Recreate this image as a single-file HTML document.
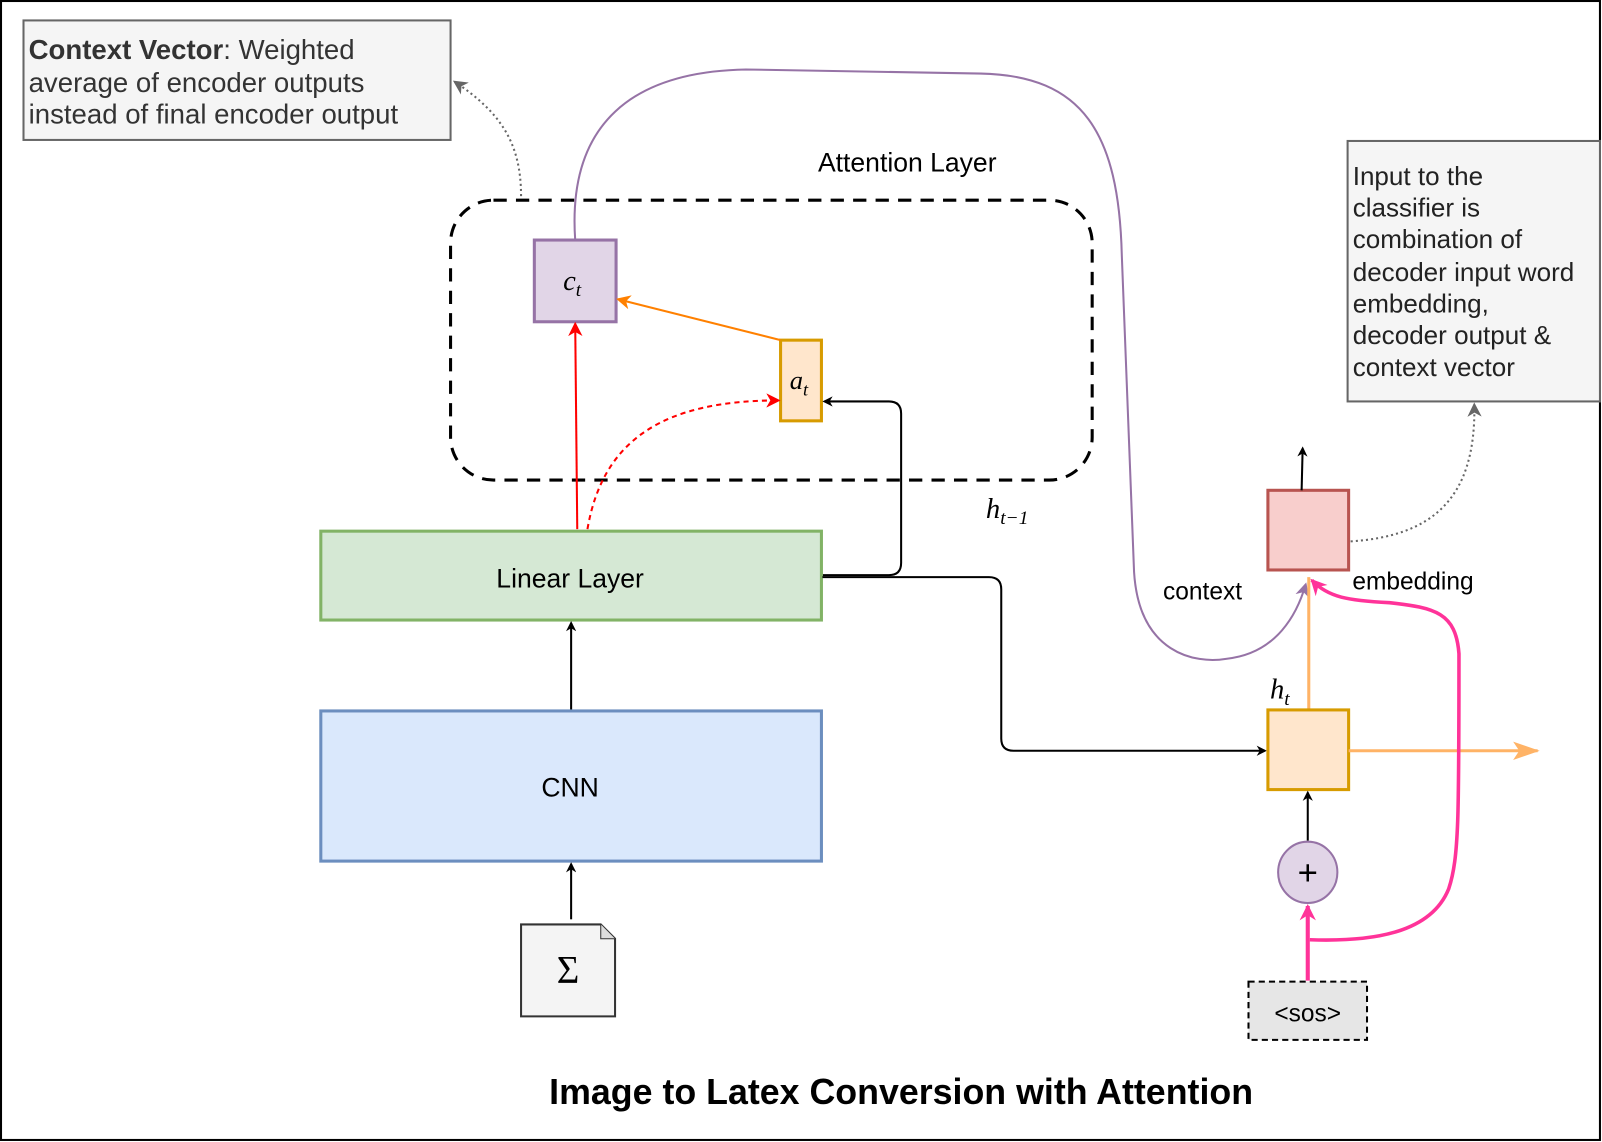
<!DOCTYPE html>
<html><head><style>html,body{margin:0;padding:0;background:#fff}svg{display:block}</style></head>
<body>
<svg width="1602" height="1142" viewBox="0 0 1568 1118" preserveAspectRatio="none" xmlns="http://www.w3.org/2000/svg" font-family="Liberation Sans, Arial, sans-serif">
<defs>
<marker id="ab" markerWidth="10" markerHeight="10" refX="8" refY="5" orient="auto" markerUnits="userSpaceOnUse"><path d="M0,0 L10,5 L0,10 L3,5 Z" fill="#000"/></marker>
<marker id="ar" markerWidth="14" markerHeight="14" refX="12" refY="7" orient="auto" markerUnits="userSpaceOnUse"><path d="M0,0 L14,7 L0,14 L4,7 Z" fill="#f00"/></marker>
<marker id="ao" markerWidth="14" markerHeight="14" refX="12" refY="7" orient="auto" markerUnits="userSpaceOnUse"><path d="M0,0 L14,7 L0,14 L4,7 Z" fill="#ff8000"/></marker>
<marker id="alo" markerWidth="26" markerHeight="18" refX="24" refY="9" orient="auto" markerUnits="userSpaceOnUse"><path d="M0,0 L26,9 L0,18 L6,9 Z" fill="#ffb366"/></marker>
<marker id="ag" markerWidth="14" markerHeight="14" refX="12" refY="7" orient="auto" markerUnits="userSpaceOnUse"><path d="M0,0 L14,7 L0,14 L4,7 Z" fill="#666"/></marker>
<marker id="ap" markerWidth="16" markerHeight="16" refX="14" refY="8" orient="auto" markerUnits="userSpaceOnUse"><path d="M0,0 L16,8 L0,16 L5,8 Z" fill="#ff3399"/></marker>
<marker id="au" markerWidth="14" markerHeight="14" refX="12" refY="7" orient="auto" markerUnits="userSpaceOnUse"><path d="M0,0 L14,7 L0,14 L4,7 Z" fill="#9673a6"/></marker>
</defs>
<rect x="1" y="1" width="1565" height="1115" fill="#fff" stroke="#000" stroke-width="2"/>

<rect x="23" y="20" width="418" height="117" fill="#f5f5f5" stroke="#666" stroke-width="2"/>
<text font-size="27" fill="#333"><tspan x="28" y="58"><tspan font-weight="bold">Context Vector</tspan>: Weighted</tspan><tspan x="28" y="90">average of encoder outputs</tspan><tspan x="28" y="121">instead of final encoder output</tspan></text>
<path d="M510,192 C510,140 490,110 445,80" fill="none" stroke="#666" stroke-width="2" stroke-dasharray="2,3" marker-end="url(#ag)"/>

<text x="888" y="168" font-size="26" text-anchor="middle">Attention Layer</text>
<rect x="441" y="196" width="628" height="274" rx="42" fill="none" stroke="#000" stroke-width="3" stroke-dasharray="13,9"/>

<path d="M563,235 C555,120 620,70 730,68 L960,72 C1060,74 1095,130 1098,250 L1110,560 C1115,640 1170,650 1200,645 C1250,640 1270,600 1278,572" fill="none" stroke="#9673a6" stroke-width="2" marker-end="url(#au)"/>

<rect x="523" y="235" width="80" height="80" fill="#e1d5e7" stroke="#9673a6" stroke-width="3"/>
<text x="560" y="284" font-size="28" font-style="italic" font-family="Liberation Serif, serif" text-anchor="middle">c<tspan font-size="19" dy="6">t</tspan></text>
<rect x="764" y="333" width="40" height="79" fill="#ffe6cc" stroke="#d79b00" stroke-width="3"/>
<text x="782" y="381" font-size="26" font-style="italic" font-family="Liberation Serif, serif" text-anchor="middle">a<tspan font-size="18" dy="6">t</tspan></text>
<line x1="764" y1="333" x2="605" y2="293" stroke="#ff8000" stroke-width="2" marker-end="url(#ao)"/>
<line x1="565" y1="518" x2="563" y2="317" stroke="#f00" stroke-width="2" marker-end="url(#ar)"/>
<path d="M575,518 C590,430 650,392 762,392" fill="none" stroke="#f00" stroke-width="2" stroke-dasharray="5,4" marker-end="url(#ar)"/>
<path d="M805,563 L870,563 Q882,563 882,551 L882,405 Q882,393 870,393 L807,393" fill="none" stroke="#000" stroke-width="2" marker-end="url(#ab)"/>
<text x="965" y="507" font-size="28" font-style="italic" font-family="Liberation Serif, serif">h<tspan font-size="19" dy="6">t−1</tspan></text>

<rect x="314" y="520" width="490" height="87" fill="#d5e8d4" stroke="#82b366" stroke-width="3"/>
<text x="558" y="575" font-size="26" text-anchor="middle">Linear Layer</text>
<line x1="559" y1="695" x2="559" y2="610" stroke="#000" stroke-width="2" marker-end="url(#ab)"/>
<rect x="314" y="696" width="490" height="147" fill="#dae8fc" stroke="#6c8ebf" stroke-width="3"/>
<text x="558" y="780" font-size="26" text-anchor="middle">CNN</text>
<line x1="559" y1="900" x2="559" y2="846" stroke="#000" stroke-width="2" marker-end="url(#ab)"/>
<path d="M510,905 L588,905 L602,919 L602,995 L510,995 Z" fill="#f4f4f4" stroke="#333" stroke-width="2"/>
<path d="M588,905 L588,919 L602,919" fill="#ddd" stroke="#333" stroke-width="1"/>
<text x="556" y="962" font-size="38" text-anchor="middle" font-family="Liberation Serif, serif">Σ</text>

<path d="M805,565 L968,565 Q980,565 980,577 L980,723 Q980,735 992,735 L1238,735" fill="none" stroke="#000" stroke-width="2" marker-end="url(#ab)"/>

<text x="1177" y="587" font-size="24" text-anchor="middle">context</text>
<text x="1383" y="577" font-size="24" text-anchor="middle">embedding</text>

<line x1="1281" y1="695" x2="1281" y2="565" stroke="#ffb366" stroke-width="3"/>
<rect x="1241" y="480" width="79" height="78" fill="#f8cecc" stroke="#b85450" stroke-width="3"/>
<line x1="1274" y1="480" x2="1275" y2="439" stroke="#000" stroke-width="2" marker-end="url(#ab)"/>
<path d="M1322,530 C1400,525 1445,490 1443,396" fill="none" stroke="#666" stroke-width="2" stroke-dasharray="2,3" marker-end="url(#ag)"/>
<rect x="1319" y="138" width="247" height="255" fill="#f5f5f5" stroke="#666" stroke-width="2"/>
<text font-size="25.5" fill="#222"><tspan x="1324" y="181">Input to the</tspan><tspan x="1324" y="212">classifier is</tspan><tspan x="1324" y="243">combination of</tspan><tspan x="1324" y="275">decoder input word</tspan><tspan x="1324" y="306">embedding,</tspan><tspan x="1324" y="337">decoder output &amp;</tspan><tspan x="1324" y="368">context vector</tspan></text>

<rect x="1241" y="695" width="79" height="78" fill="#ffe6cc" stroke="#d79b00" stroke-width="3"/>
<text x="1243" y="684" font-size="28" font-style="italic" font-family="Liberation Serif, serif">h<tspan font-size="19" dy="6">t</tspan></text>
<line x1="1320" y1="735" x2="1505" y2="735" stroke="#ffb366" stroke-width="3" marker-end="url(#alo)"/>
<line x1="1280" y1="823" x2="1280" y2="776" stroke="#000" stroke-width="2" marker-end="url(#ab)"/>
<ellipse cx="1280" cy="854" rx="29" ry="30" fill="#e1d5e7" stroke="#9673a6" stroke-width="2"/>
<text x="1280" y="866" font-size="34" text-anchor="middle">+</text>

<line x1="1280" y1="960" x2="1280" y2="887" stroke="#ff3399" stroke-width="4" marker-end="url(#ap)"/>
<path d="M1282,920 C1340,922 1400,915 1418,870 C1428,840 1428,800 1428,640 C1425,600 1405,595 1360,590 C1320,588 1300,585 1284,568" fill="none" stroke="#ff3399" stroke-width="3.5" marker-end="url(#ap)"/>

<rect x="1222" y="961" width="116" height="57" fill="#e6e6e6" stroke="#000" stroke-width="2" stroke-dasharray="6,4"/>
<text x="1280" y="1000" font-size="24" text-anchor="middle">&lt;sos&gt;</text>

<text x="882" y="1081" font-size="35" font-weight="bold" text-anchor="middle">Image to Latex Conversion with Attention</text>
</svg>
</body></html>
